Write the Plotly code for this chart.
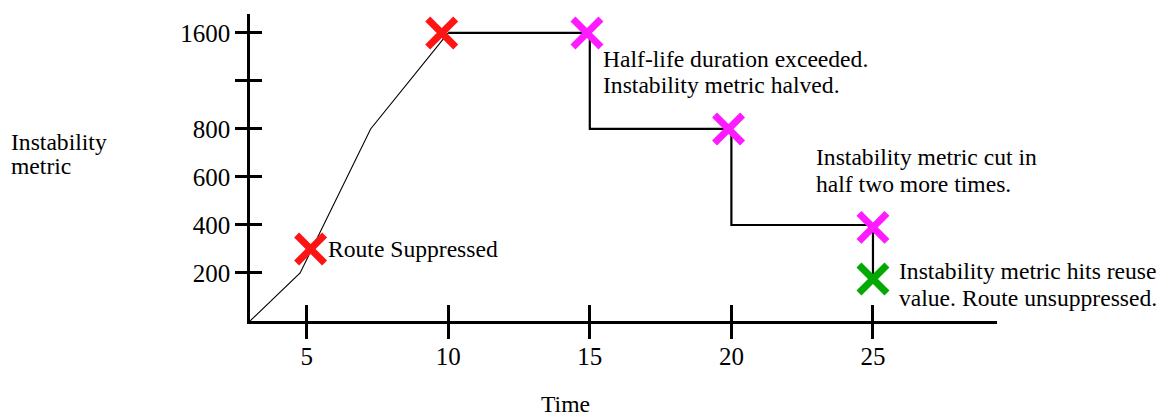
import plotly.graph_objects as go

# ---------------- data ----------------
# rising phase of the instability metric (time, metric value)
rise_t = [3, 4.77, 7.26, 10]
rise_v = [0, 200, 800, 1600]
# decay steps after suppression
step_t = [10, 15, 15, 20, 20, 25, 25]
step_v = [1600, 1600, 800, 800, 400, 400, 175]
# event markers
red_t = [5.14, 9.77]
red_v = [300, 1600]
mag_t = [14.9, 19.9, 25]
mag_v = [1600, 800, 390]
green_t = [25]
green_v = [175]
# axis ticks
x_ticks = [5, 10, 15, 20, 25]
y_tick_vals = [200, 400, 600, 800, 1200, 1600]
y_tick_text = ["200", "400", "600", "800", "", "1600"]

# broken y scale: linear to 800, then compressed by half above 800
def ypos(v):
    return v if v <= 800 else 800 + (v - 800) / 2

def ymap(vals):
    return [ypos(v) for v in vals]

FONT = "Liberation Serif"
XR = [3, 29.38]
YR = [0, 1279]
TXT = 23.6

fig = go.Figure()
fig.add_trace(go.Scatter(x=rise_t, y=ymap(rise_v), mode="lines",
                         line=dict(color="black", width=1.1), hoverinfo="skip"))
fig.add_trace(go.Scatter(x=step_t, y=ymap(step_v), mode="lines",
                         line=dict(color="black", width=2.2), hoverinfo="skip"))

def xmark(t, v, color):
    fig.add_trace(go.Scatter(x=t, y=ymap(v), mode="markers",
                             marker=dict(symbol="x-thin", size=28,
                                         line=dict(color=color, width=7)),
                             hoverinfo="skip"))

xmark(red_t, red_v, "#ff1414")
xmark(mag_t, mag_v, "#ff1aff")
xmark(green_t, green_v, "#00aa00")

# invisible trace for overlay axes (other half of crossing ticks)
fig.add_trace(go.Scatter(x=[XR[0]], y=[YR[0]], xaxis="x2", yaxis="y2",
                         mode="markers", marker=dict(opacity=0), hoverinfo="skip"))

# annotations (text lines)
ann_lines = [
    ("Route Suppressed", 5.72, 300),
    ("Half-life duration exceeded.", 15.43, 1092),
    ("Instability metric halved.", 15.43, 983),
    ("Instability metric cut in", 22.97, 682),
    ("half two more times.", 22.97, 572),
    ("Instability metric hits reuse", 25.87, 207),
    ("value. Route unsuppressed.", 25.87, 96),
]
for txt, x, y in ann_lines:
    fig.add_annotation(text=txt, x=x, y=y, xref="x", yref="y",
                       xanchor="left", yanchor="middle", showarrow=False,
                       borderpad=0, font=dict(family=FONT, size=TXT, color="black"))

side_lines = [("Instability", -0.3217, (321 - 142.3) / 307),
              ("metric", -0.3217, (321 - 165.7) / 307)]
for txt, x, y in side_lines:
    fig.add_annotation(text=txt, x=x, y=y, xref="paper", yref="paper",
                       xanchor="left", yanchor="middle", showarrow=False,
                       borderpad=0, font=dict(family=FONT, size=TXT, color="black"))
fig.add_annotation(text="Time", x=0.4217, y=(321 - 404.0) / 307, xref="paper", yref="paper",
                   xanchor="center", yanchor="middle", showarrow=False,
                   borderpad=0, font=dict(family=FONT, size=TXT, color="black"))

fig.update_layout(
    width=1159, height=408,
    margin=dict(l=242, r=170, t=6, b=95),
    paper_bgcolor="white", plot_bgcolor="white",
    showlegend=False,
    font=dict(family=FONT, color="black"),
    xaxis=dict(range=XR, tickvals=x_ticks, ticks="inside", ticklen=16, tickwidth=2.5,
               tickcolor="black", showline=True, linecolor="black", linewidth=2.5,
               showgrid=False, zeroline=False, tickfont=dict(family=FONT, size=25),
               ticklabelstandoff=11, fixedrange=True),
    yaxis=dict(range=YR, tickvals=ymap(y_tick_vals), ticktext=y_tick_text,
               ticks="outside", ticklen=12, tickwidth=2.5, tickcolor="black",
               showline=True, linecolor="black", linewidth=2.5, showgrid=False,
               zeroline=False, tickfont=dict(family=FONT, size=25), fixedrange=True),
    xaxis2=dict(range=XR, overlaying="x", anchor="y2", tickvals=x_ticks, ticks="outside",
                ticklen=17, tickwidth=2.5, tickcolor="black", showticklabels=False,
                showline=False, showgrid=False, zeroline=False, fixedrange=True),
    yaxis2=dict(range=YR, overlaying="y", anchor="x2", tickvals=ymap(y_tick_vals),
                ticks="inside", ticklen=12, tickwidth=2.5, tickcolor="black",
                showticklabels=False, showline=False, showgrid=False, zeroline=False,
                fixedrange=True),
)

fig.write_html("out.html")
